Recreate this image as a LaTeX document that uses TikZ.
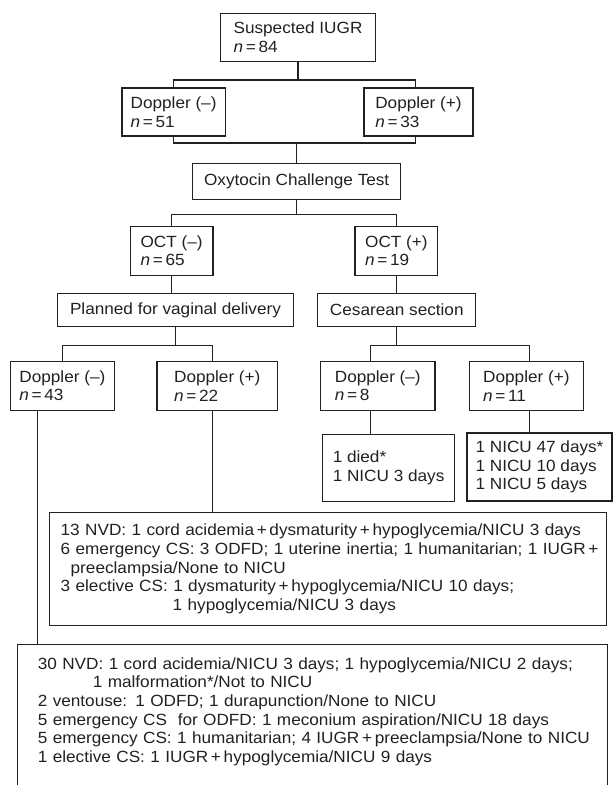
\documentclass[tikz,border=0pt]{standalone}
\usepackage{fontspec}
\setmainfont[FakeStretch=1.06]{Liberation Sans}
\usetikzlibrary{positioning}
\usetikzlibrary{calc}
\definecolor{ink}{rgb}{.14,.12,.13}

\begin{document}
\begin{tikzpicture}[x=1pt, y=-1pt, align=left, font=\fontsize{16.2}{18.6}\selectfont, text=ink,
	bxnode/.style={rectangle,draw=ink,line width=1.1pt,inner sep=0pt},
	txnode/.style={rectangle,draw=ink,line width=1.1pt,inner ysep=0pt},
	conn/.style={draw=ink,line width=1.1pt}]
	\path[use as bounding box, clip] (0,0) rectangle (613,785);
	% \draw[help lines] (0,0) grid (613,785);
	\node[bxnode, minimum width=154.3pt, minimum height=47.7pt](iugr) at (298,37.2){Suspected IUGR\\\textit{n}\,=\,84};
	\node[bxnode, minimum width=103.2pt, minimum height=48pt](dneg) at (173.6,112){Doppler (–)\\\textit{n}\,=\,51};
	\node[bxnode, minimum width=109pt, minimum height=48pt](dpos) at (418.5,112){Doppler (+)\\\textit{n}\,=\,33};
	\node[bxnode, minimum width=208pt, minimum height=36pt](oct) at (296.7,181.3){Oxytocin Challenge Test};
	\node[bxnode, minimum width=82.8pt, minimum height=48.3pt](octneg) at (171.6,250.9){OCT (–)\\\textit{n}\,=\,65};
	\node[bxnode, minimum width=82.8pt, minimum height=48.3pt](octpos) at (396.4,250.9){OCT (+)\\\textit{n}\,=\,19};
	\node[bxnode, minimum width=235.3pt, minimum height=33.2pt](vag) at (175.5,310.1){Planned for vaginal delivery};
	\node[bxnode, minimum width=158pt, minimum height=33.2pt](cs) at (396.8,310.1){Cesarean section};
	\node[bxnode, minimum width=103.6pt, minimum height=48.3pt](vdneg) at (62.4,385.9){Doppler (–)\\\textit{n}\,=\,43};
	\node[bxnode, minimum width=120.6pt, minimum height=48.3pt](vdpos) at (217.3,385.9){Doppler (+)\\\textit{n}\,=\,22};
	\node[bxnode, minimum width=114.4pt, minimum height=48.3pt](csdneg) at (377.8,385.9){Doppler (–)\\\textit{n}\,=\,8};
	\node[bxnode, minimum width=114.7pt, minimum height=48.3pt](csdpos) at (526.4,385.9){Doppler (+)\\\textit{n}\,=\,11};
	\node[bxnode, minimum width=131.8pt, minimum height=67.5pt](died) at (388.6,468){1 died*\\1 NICU 3 days};
	\node[bxnode, minimum width=145pt, minimum height=68pt](nicu) at (539.5,467){1 NICU 47 days*\\1 NICU 10 days\\1 NICU 5 days};
	\node[txnode, inner xsep=11.4pt, text width=534.6pt, minimum height=113.4pt](vdposres) at (328,569){13 NVD: 1 cord acidemia\,+\,dysmaturity\,+\,hypoglycemia/NICU 3 days\\\mbox{6 emergency CS: 3 ODFD; 1 uterine inertia; 1 humanitarian; 1 IUGR\,+}\\\hspace*{10pt}preeclampsia/None to NICU\\3 elective CS: 1 dysmaturity\,+\,hypoglycemia/NICU 10 days;\\\hspace*{112pt}1 hypoglycemia/NICU 3 days};
	\node[txnode, anchor=north west, inner xsep=20pt, inner ysep=13pt, text width=549.7pt, text depth=128pt](vdnegres) at (17.3,644){30 NVD: 1 cord acidemia/NICU 3 days; 1 hypoglycemia/NICU 2 days;\\\hspace*{55pt}1 malformation*/Not to NICU\\2 ventouse: 1 ODFD; 1 durapunction/None to NICU\\5 emergency CS\ \ for ODFD: 1 meconium aspiration/NICU 18 days\\\mbox{5 emergency CS: 1 humanitarian; 4 IUGR\,+\,preeclampsia/None to NICU}\\1 elective CS: 1 IUGR\,+\,hypoglycemia/NICU 9 days};
	\coordinate (j1) at (0,80);
	\coordinate (j2) at (0,143);
	\coordinate (j3) at (0,214.3);
	\coordinate (j4) at (0,345.7);
	\draw[conn] (iugr.south) -- (iugr.south |- j1);
	\draw[conn] (dneg.north) |- ([xshift=-3pt]dpos.north |- j1) -- ([xshift=-3pt]dpos.north);
	\draw[conn] (dneg.south) |- ([xshift=-3pt]dpos.south |- j2) -- ([xshift=-3pt]dpos.south);
	\draw[conn] (oct.north) -- (oct.north |- j2);
	\draw[conn] (oct.south) -- (oct.south |- j3);
	\draw[conn] (octneg.north) |- (octpos.north |- j3) -- (octpos.north);
	\draw[conn] (octneg.south) -- (octneg.south |- vag.north);
	\draw[conn] (octpos.south) -- (octpos.south |- cs.north);
	\draw[conn] (vag.south) -- (vag.south |- j4);
	\draw[conn] (vdneg.north) |- ([xshift=-5pt]vdpos.north |- j4) -- ([xshift=-5pt]vdpos.north);
	\draw[conn] (cs.south) -- (cs.south |- j4);
	\draw[conn] ([xshift=-7pt]csdneg.north) |- ([xshift=3.3pt]csdpos.north |- j4) -- ([xshift=3.3pt]csdpos.north);
	\draw[conn] ([xshift=-7pt]csdneg.south) -- ([xshift=-7pt]csdneg.south |- died.north);
	\draw[conn] ([xshift=3.3pt]csdpos.south) -- ([xshift=3.3pt]csdpos.south |- nicu.north);
	\draw[conn] ([xshift=-5pt]vdpos.south) -- ([xshift=-5pt]vdpos.south |- vdposres.north);
	\draw[conn] ([xshift=-24.7pt]vdneg.south) -- ([xshift=-24.7pt]vdneg.south |- vdnegres.north);
\end{tikzpicture}
\end{document}
